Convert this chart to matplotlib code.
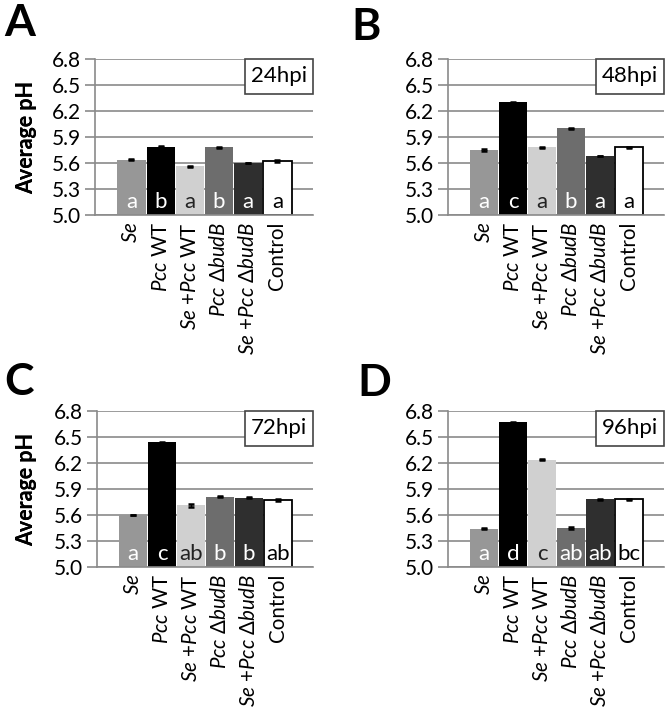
import matplotlib
matplotlib.use("Agg")
import matplotlib.pyplot as plt
import matplotlib.patches as mpatches
import numpy as np

plt.rcParams['font.family'] = ['Lato', 'DejaVu Sans']
plt.rcParams['mathtext.fontset'] = 'custom'
plt.rcParams['mathtext.rm'] = 'Lato'
plt.rcParams['mathtext.it'] = 'Lato:italic'
plt.rcParams['mathtext.bf'] = 'Lato:bold'

# Data
treatments = [r'$\mathit{Se}$', r'$\mathit{Pcc}$ WT', r'$\mathit{Se}$ +$\mathit{Pcc}$ WT',
              r'$\mathit{Pcc}$ $\mathrm{\Delta}\mathit{budB}$',
              r'$\mathit{Se}$ +$\mathit{Pcc}$ $\mathrm{\Delta}\mathit{budB}$', 'Control']
bar_colors = ['#979797', '#000000', '#d0d0d0', '#6d6d6d', '#2f2f2f', '#ffffff']
letter_colors = ['white', 'white', '#222222', 'white', 'white', 'black']

ph_24 = [5.64, 5.79, 5.56, 5.78, 5.60, 5.62]
ph_48 = [5.75, 6.30, 5.78, 6.00, 5.68, 5.78]
ph_72 = [5.60, 6.44, 5.71, 5.81, 5.80, 5.77]
ph_96 = [5.44, 6.67, 6.24, 5.45, 5.78, 5.78]

err_24 = [0.005, 0.005, 0.006, 0.008, 0.003, 0.012]
err_48 = [0.006, 0.006, 0.008, 0.008, 0.005, 0.010]
err_72 = [0.005, 0.008, 0.012, 0.008, 0.008, 0.010]
err_96 = [0.006, 0.008, 0.010, 0.006, 0.006, 0.008]

let_24 = ['a', 'b', 'a', 'b', 'a', 'a']
let_48 = ['a', 'c', 'a', 'b', 'a', 'a']
let_72 = ['a', 'c', 'ab', 'b', 'b', 'ab']
let_96 = ['a', 'd', 'c', 'ab', 'ab', 'bc']

times = ['24hpi', '48hpi', '72hpi', '96hpi']
panels = ['A', 'B', 'C', 'D']

W, H = 666, 713
fig = plt.figure(figsize=(W / 100, H / 100), dpi=100)

# axes boxes in pixels: left, right, top, bottom
boxes = [(95, 313, 59, 215), (448, 664, 59, 215),
         (97, 313, 411, 567), (448, 664, 411, 567)]
letter_pos = [(4, 3), (351, 7), (4, 362), (357, 363)]

grid_col = '#8a8a8a'
x = np.arange(6)

for i, (vals, errs, lets) in enumerate(zip([ph_24, ph_48, ph_72, ph_96],
                                           [err_24, err_48, err_72, err_96],
                                           [let_24, let_48, let_72, let_96])):
    l, r, t, b = boxes[i]
    ax = fig.add_axes([l / W, 1 - b / H, (r - l) / W, (b - t) / H])
    ax.set_axisbelow(True)
    ax.bar(x, np.array(vals) - 5.0, bottom=5.0, width=0.97, color=bar_colors,
           edgecolor=['none'] * 5 + ['black'], linewidth=1.3, zorder=2)
    ax.errorbar(x, vals, yerr=errs, fmt='none', ecolor='black', elinewidth=1,
                capsize=2.5, capthick=1.8, zorder=3)
    for xi, s, c in zip(x, lets, letter_colors):
        ax.text(xi, 5.03, s, ha='center', va='bottom', fontsize=16, color=c, zorder=4)

    ax.set_xlim(-1.25, 6.22)
    ax.set_ylim(5.0, 6.8)
    ax.set_yticks([5.0, 5.3, 5.6, 5.9, 6.2, 6.5, 6.8])
    ax.set_yticklabels(['5.0', '5.3', '5.6', '5.9', '6.2', '6.5', '6.8'])
    ax.yaxis.grid(True, color=grid_col, linewidth=1.2)
    ax.tick_params(axis='y', length=7, width=1.2, color=grid_col, labelsize=15, pad=3)
    ax.set_xticks(x)
    ax.set_xticklabels(treatments, rotation=90, fontsize=14.8)
    ax.tick_params(axis='x', length=0, pad=5)
    for sp in ['top', 'right']:
        ax.spines[sp].set_visible(False)
    for sp in ['left', 'bottom']:
        ax.spines[sp].set_color(grid_col)
        ax.spines[sp].set_linewidth(1.2)

    ax.set_ylabel('Average pH', fontsize=15.5, fontweight='bold')
    ax.yaxis.set_label_coords(-(l - 37) / (r - l), 0.5)

    # time label box
    bw, bh = 68 / (r - l), 35 / (b - t)
    ax.add_patch(mpatches.Rectangle((1 - bw, 1 - bh), bw, bh, transform=ax.transAxes,
                                    facecolor='white', edgecolor='#444444', linewidth=1.2,
                                    clip_on=False, zorder=5))
    ax.text(1 - bw / 2, 1 - bh / 2, times[i], transform=ax.transAxes, ha='center',
            va='center', fontsize=16, zorder=6)

    px, py = letter_pos[i]
    fig.text(px / W, 1 - py / H, panels[i], fontsize=32, fontweight='bold',
             ha='left', va='top')

plt.savefig('out.png', dpi=100)
